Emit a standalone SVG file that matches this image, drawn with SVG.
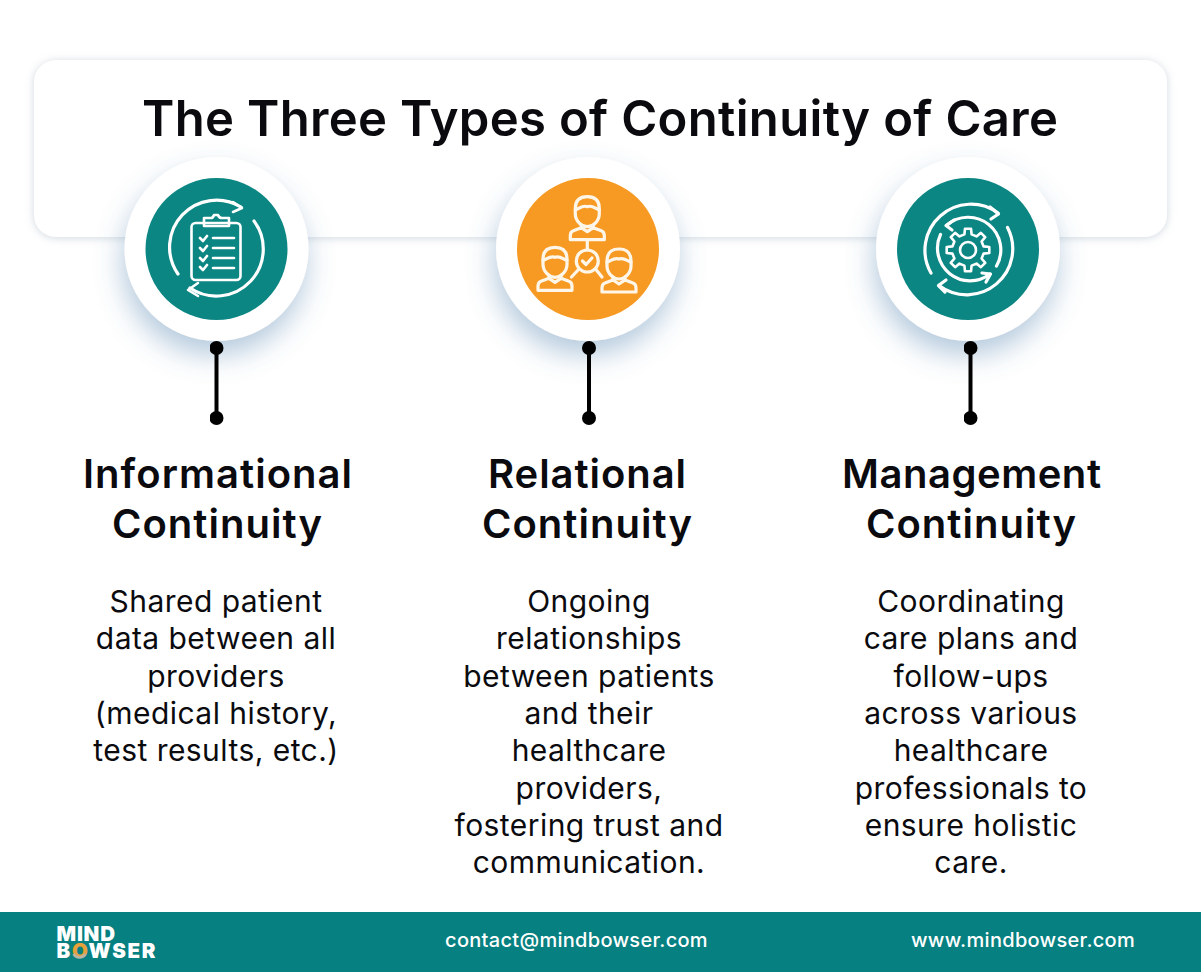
<svg xmlns="http://www.w3.org/2000/svg" xmlns:xlink="http://www.w3.org/1999/xlink" width="1201" height="973" viewBox="0 0 1201 973">
<style>
text{font-family:"Inter","Liberation Sans",sans-serif;fill:#0b0b0f;text-anchor:middle}
.t{font-size:49px;font-weight:600}
.h{font-size:40px;font-weight:600}
.b{font-size:30px;font-weight:400;letter-spacing:.45px}
.f{font-size:20px;font-weight:500;fill:#fff;letter-spacing:.3px}
.i{fill:none;stroke:#fff;stroke-width:2.600;stroke-linecap:round;stroke-linejoin:round}
.o{stroke-width:3.200}
.p{stroke-width:3.200;stroke:#fff6ea}
.c{stroke:#000;stroke-width:4;fill:none}
.l{font-size:20.500px;font-weight:900;fill:#fff;text-anchor:start}
</style>
<defs>
<filter id="s1" x="-10%" y="-30%" width="120%" height="160%"><feDropShadow dx="0" dy="1" stdDeviation="4" flood-color="#8a9bb0" flood-opacity=".4"/></filter>
<filter id="s2" x="-50%" y="-50%" width="200%" height="210%"><feDropShadow dx="-2" dy="14" stdDeviation="14" flood-color="#4f80ad" flood-opacity=".42"/></filter>
<marker id="dot" viewBox="0 0 14 14" refX="7" refY="7" markerWidth="14" markerHeight="14" markerUnits="userSpaceOnUse"><circle cx="7" cy="7" r="7" fill="#000"/></marker>
<g id="person">
<path d="M-12 12C-12 3-7 0 0 0C7 0 12 3 12 12V17C12 24 6 30 0 30C-6 30-12 24-12 17Z"/>
<path d="M-12 13C-8 12-5 8 0 10C5 8 8 12 12 13"/>
<path d="M-6 29V31L-14 34Q-17 35-17 39V43H17V39Q17 35 14 34L6 31V29M-6 31L0 35L6 31"/>
</g>
</defs>
<rect width="1201" height="973" fill="#fff"/>
<g id="title-panel"><rect x="34" y="60" width="1133" height="177" rx="22" fill="#fff" filter="url(#s1)"/>
<text class="t" x="600" y="136" textLength="916">The Three Types of Continuity of Care</text></g>
<g id="node-informational">
<circle cx="216.500" cy="249" r="92" fill="#fff" filter="url(#s2)"/>
<circle cx="216.500" cy="249" r="71" fill="#0b8683"/>
<g class="i">
<path class="o" d="M178 274A47 47 0 0 1 241 207"/><path d="M233 202L242 208L233 212"/>
<path class="o" d="M254 221A47 47 0 0 1 190 288"/><path d="M198 283L188 290L198 296"/>
<rect x="191.500" y="223" width="49" height="57" rx="4"/>
<path d="M204 223V218H211Q213 218 214 215H218Q219 218 222 218H229V226H204Z"/>
<path d="M200 238L203 241L207 236M200 248L203 251L207 246M200 258L203 261L207 256M200 267L203 270L207 265"/>
<path d="M213 238H234M213 248H234M213 258H234M213 268H234"/>
</g>
<text class="h" x="217.500" y="488" textLength="269">Informational</text>
<text class="h" x="217" y="538" textLength="210">Continuity</text>
<text class="b" x="216" y="612">Shared patient</text>
<text class="b" x="216" y="649">data between all</text>
<text class="b" x="216" y="687">providers</text>
<text class="b" x="216" y="724">(medical history,</text>
<text class="b" x="216" y="761">test results, etc.)</text>
</g>
<g id="node-relational">
<circle cx="588" cy="249" r="92" fill="#fff" filter="url(#s2)"/>
<circle cx="588" cy="249" r="71" fill="#f69a24"/>
<g class="i p">
<use xlink:href="#person" href="#person" x="587.300" y="196.700"/>
<use xlink:href="#person" href="#person" x="555" y="247.300"/>
<use xlink:href="#person" href="#person" x="619" y="249"/>
<path d="M587.300 240V250"/><circle cx="587.300" cy="261" r="11"/><path d="M582.500 261L586 264.500L592 258"/>
<path d="M579 269L571.500 277M595.500 269L602 277"/>
</g>
<text class="h" x="587" y="488" textLength="198">Relational</text>
<text class="h" x="587" y="538" textLength="210">Continuity</text>
<text class="b" x="589" y="612">Ongoing</text>
<text class="b" x="589" y="649">relationships</text>
<text class="b" x="589" y="687">between patients</text>
<text class="b" x="589" y="724">and their</text>
<text class="b" x="589" y="761">healthcare</text>
<text class="b" x="589" y="799">providers,</text>
<text class="b" x="589" y="836">fostering trust and</text>
<text class="b" x="589" y="873">communication.</text>
</g>
<g id="node-management">
<circle cx="968" cy="249" r="92" fill="#fff" filter="url(#s2)"/>
<circle cx="968" cy="249" r="71" fill="#0b8683"/>
<g class="i">
<path class="o" d="M931 273A46 46 0 0 1 998 213"/><path class="o" d="M990 207L998.500 214L991 219"/>
<path class="o" d="M1007.500 227.500A46 46 0 0 1 939 285.500"/><path class="o" d="M946 280L938.500 285.500L945 292"/>
<path class="o" d="M946.500 225.500A32.600 32.600 0 0 1 996.500 266"/><path class="o" d="M954 220L946 225.500L952 230"/>
<path class="o" d="M940.500 234.500A32.600 32.600 0 0 0 990 274"/><path class="o" d="M982 273L990.500 274L986 282"/>
<circle cx="968" cy="250" r="8"/>
<path transform="translate(968 250)" d="M-3.600-15.600L-3-21.300L3-21.300L3.600-15.600L8.500-13.600L12.900-17.200L17.200-12.900L13.600-8.500L15.600-3.600L21.300-3L21.300 3L15.600 3.600L13.600 8.500L17.200 12.900L12.900 17.200L8.500 13.600L3.600 15.600L3 21.300L-3 21.300L-3.600 15.600L-8.500 13.600L-12.900 17.200L-17.200 12.900L-13.600 8.500L-15.600 3.600L-21.300 3L-21.300-3L-15.600-3.600L-13.600-8.500L-17.200-12.900L-12.900-17.200L-8.500-13.600Z"/>
</g>
<text class="h" x="971.500" y="488" textLength="259">Management</text>
<text class="h" x="971" y="538" textLength="210">Continuity</text>
<text class="b" x="971" y="612">Coordinating</text>
<text class="b" x="971" y="649">care plans and</text>
<text class="b" x="971" y="687">follow-ups</text>
<text class="b" x="971" y="724">across various</text>
<text class="b" x="971" y="761">healthcare</text>
<text class="b" x="971" y="799">professionals to</text>
<text class="b" x="971" y="836">ensure holistic</text>
<text class="b" x="971" y="873">care.</text>
</g>
<g id="connectors">
<line class="c" x1="216.500" y1="348" x2="216.500" y2="418" marker-start="url(#dot)" marker-end="url(#dot)"/>
<line class="c" x1="589" y1="348" x2="589" y2="418" marker-start="url(#dot)" marker-end="url(#dot)"/>
<line class="c" x1="970.500" y1="348" x2="970.500" y2="418" marker-start="url(#dot)" marker-end="url(#dot)"/>
</g>
<g id="footer">
<rect x="0" y="912" width="1201" height="60" fill="#068080"/>
<text class="l" x="56.500" y="941"><tspan textLength="58.500">MIND</tspan><tspan x="56.500" dy="17.200" letter-spacing="1.700">B<tspan fill="#e5a13a">O</tspan>WSER</tspan></text>
<path d="M73.500 954A7 7 0 0 0 85.500 954" fill="none" stroke="#b9b3a6" stroke-width="2.500"/>
<text class="f" x="576.500" y="947">contact@mindbowser.com</text>
<text class="f" x="1023" y="947">www.mindbowser.com</text>
</g>
</svg>
